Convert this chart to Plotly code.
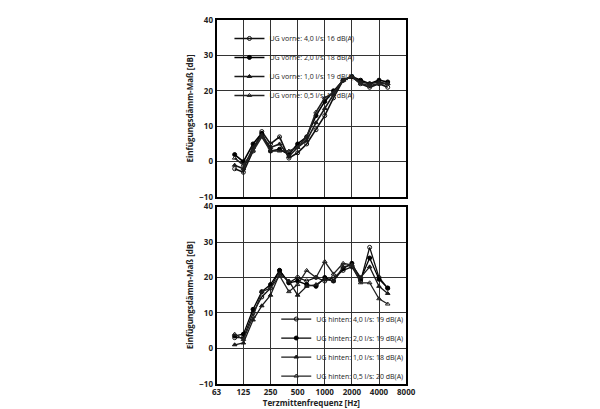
import plotly.graph_objects as go
from plotly.subplots import make_subplots

freq = [100, 125, 160, 200, 250, 315, 400, 500, 630, 800, 1000, 1250, 1600, 2000, 2500, 3150, 4000, 5000]

vorne_names = ["UG vorne: 4,0 l/s: 16 dB(A)", "UG vorne: 2,0 l/s: 18 dB(A)",
               "UG vorne: 1,0 l/s: 19 dB(A)", "UG vorne: 0,5 l/s: 19 dB(A)"]
vorne_40 = [-2, -3, 3, 8.5, 5, 7, 1, 2.5, 5, 9, 13, 18, 23, 24, 22, 21, 22, 21]
vorne_20 = [2, 0, 5, 8, 3, 3.5, 2, 5, 7, 13, 17, 20, 23, 24, 23, 22, 23, 22.5]
vorne_10 = [-1, -2, 4, 7.5, 4, 5, 1.5, 4, 6, 11, 15, 19, 23, 24, 22.5, 22, 22.5, 22]
vorne_05 = [1, -1, 3, 7, 3, 3, 3, 4, 7, 14, 18, 19.5, 23, 24, 22, 21.5, 22, 22]

hinten_names = ["UG hinten: 4,0 l/s: 19 dB(A)", "UG hinten: 2,0 l/s: 19 dB(A)",
                "UG hinten: 1,0 l/s: 18 dB(A)", "UG hinten: 0,5 l/s: 20 dB(A)"]
hinten_40 = [3, 3, 10, 14.5, 17, 22, 18.5, 20, 19, 20, 19, 20, 22, 23, 19, 28.5, 20, 17]
hinten_20 = [3.5, 4, 11, 16, 18, 22, 18.5, 19, 18, 17.5, 20, 19, 22.5, 24, 19.5, 25.5, 19.5, 17]
hinten_10 = [1, 1.5, 8, 12, 15, 21, 19, 15, 17.5, 18, 19.5, 19, 23, 23.5, 20, 23, 17.5, 15.5]
hinten_05 = [4, 2.5, 9, 16, 17, 20.5, 16, 18, 22, 20, 24.5, 21, 24, 23.5, 18.5, 18.5, 14, 12.5]

symbols = ["circle-open", "circle", "triangle-up", "triangle-up-open"]
greys = ["#111", "#000", "#1a1a1a", "#222"]

fig = make_subplots(rows=2, cols=1)

for i, (name, ys) in enumerate(zip(vorne_names, [vorne_40, vorne_20, vorne_10, vorne_05])):
    fig.add_trace(go.Scatter(x=freq, y=ys, name=name, mode="lines+markers", legend="legend",
                             line=dict(color=greys[i], width=1.6),
                             marker=dict(symbol=symbols[i], size=4, color=greys[i],
                                         line=dict(color=greys[i], width=1))), row=1, col=1)
for i, (name, ys) in enumerate(zip(hinten_names, [hinten_40, hinten_20, hinten_10, hinten_05])):
    fig.add_trace(go.Scatter(x=freq, y=ys, name=name, mode="lines+markers", legend="legend2",
                             line=dict(color=greys[i], width=1.3),
                             marker=dict(symbol=symbols[i], size=4, color=greys[i],
                                         line=dict(color=greys[i], width=1))), row=2, col=1)

xticks = [63, 125, 250, 500, 1000, 2000, 4000, 8000]
axis_x = dict(type="log", range=[1.7993, 3.9031], tickvals=xticks, showgrid=True,
              gridcolor="#333", gridwidth=1, showline=True, linecolor="black", linewidth=2,
              mirror=True, ticks="", tickfont=dict(size=8, color="#222", family="Open Sans", weight="bold"),
              domain=[0.348, 0.672])
axis_y = dict(range=[-10, 40], dtick=10, showgrid=True, gridcolor="#333", gridwidth=1,
              zeroline=False, showline=True, linecolor="black", linewidth=2, mirror=True, ticks="",
              tickfont=dict(size=8, color="#222", family="Open Sans", weight="bold"),
              title=dict(text="<b>Einfügungsdämm-Maß [dB]</b>", font=dict(size=8, family="Open Sans"), standoff=4))

legend_style = dict(xanchor="left", yanchor="top", bgcolor="rgba(255,255,255,0)",
                    font=dict(size=7, family="Open Sans", color="#222"),
                    tracegroupgap=0, itemwidth=30)

fig.update_layout(
    width=600, height=409, paper_bgcolor="white", plot_bgcolor="white",
    margin=dict(l=0, r=0, t=0, b=0),
    xaxis=dict(axis_x, showticklabels=False),
    xaxis2=dict(axis_x, title=dict(text="<b>Terzmittenfrequenz [Hz]</b>", font=dict(size=8, family="Open Sans"), standoff=2)),
    yaxis=dict(axis_y, domain=[0.540, 0.985]),
    yaxis2=dict(axis_y, domain=[0.071, 0.516]),
    legend=dict(legend_style, x=0.37, y=0.975),
    legend2=dict(legend_style, x=0.45, y=0.27),
    font=dict(family="Open Sans", color="#222"),
)

fig.write_html("out.html")
